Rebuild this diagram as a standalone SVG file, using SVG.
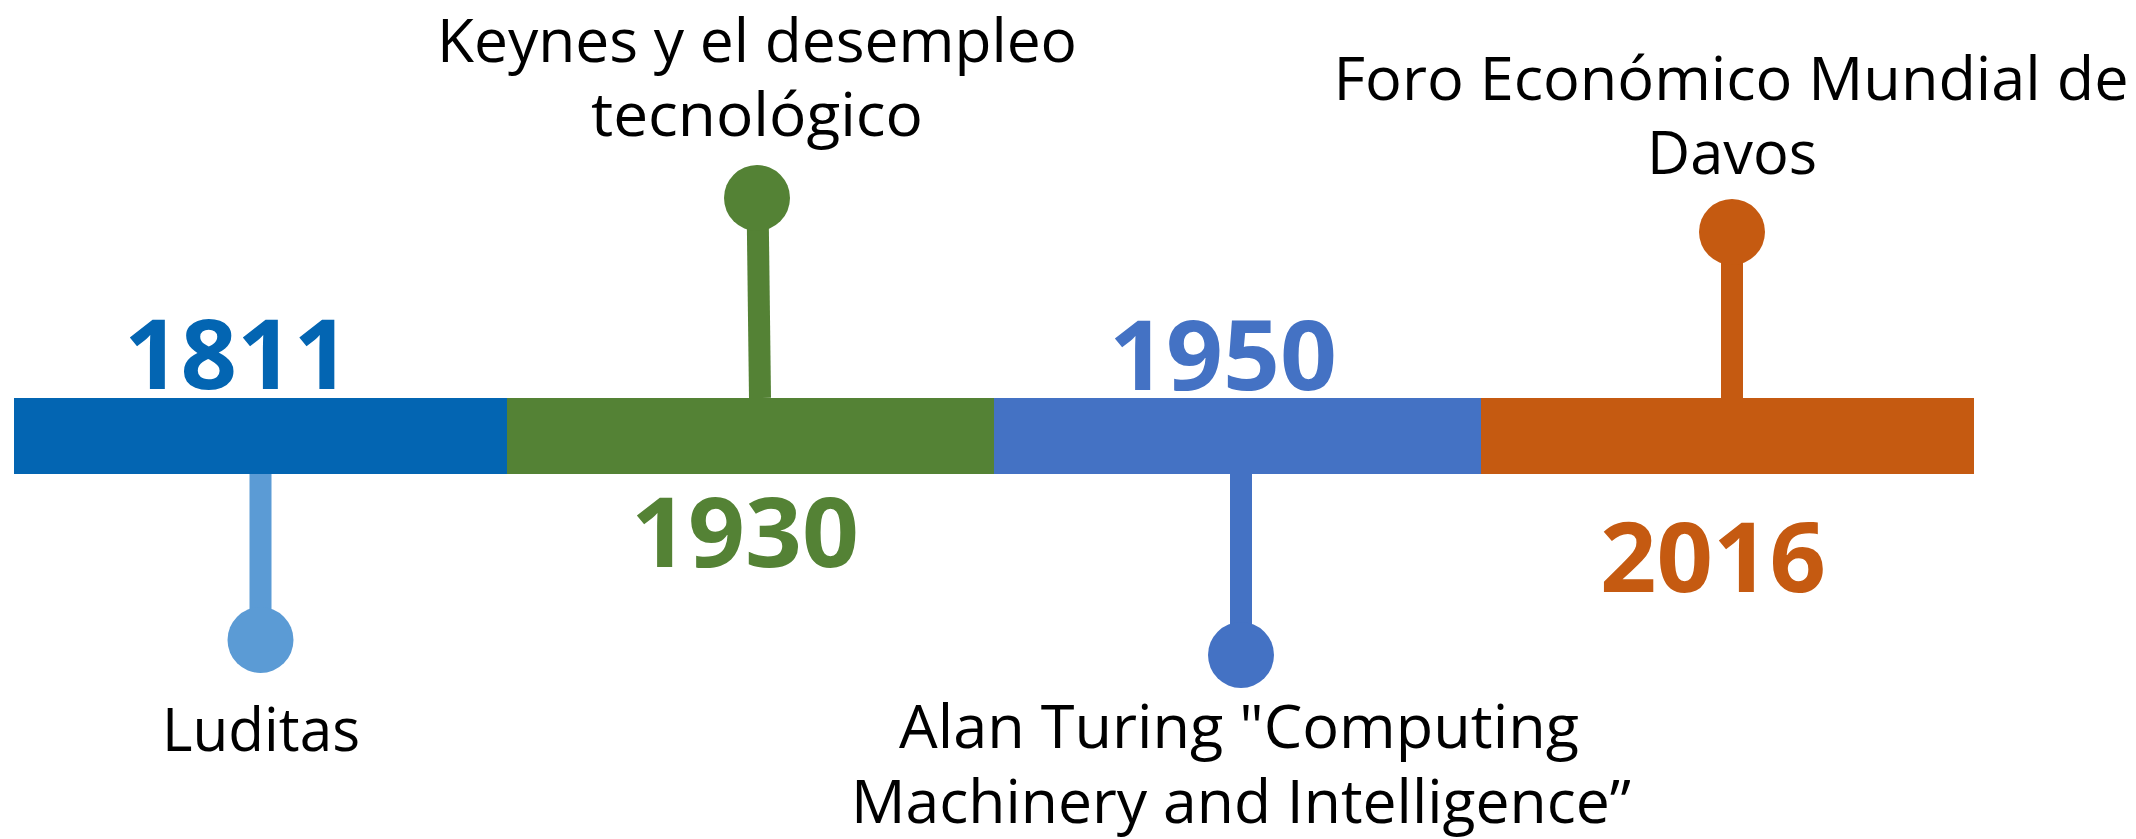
<svg xmlns="http://www.w3.org/2000/svg" width="2136" height="839" viewBox="0 0 2136 839">
<style>
.lbl{font-family:"Open Sans","Noto Sans","Liberation Sans",sans-serif;font-size:60px;fill:#000;text-anchor:middle}
.yr{font-family:"Open Sans","Noto Sans","Liberation Sans",sans-serif;font-size:96px;font-weight:bold;text-anchor:middle}
.stem{stroke-width:22;fill:none}
</style>
<rect width="2136" height="839" fill="#fff"/>
<g id="connectors">
<line class="stem" x1="260.5" y1="474" x2="260.5" y2="640" stroke="#5B9BD5"/>
<line class="stem" x1="757.5" y1="198" x2="760" y2="398" stroke="#548235"/>
<line class="stem" x1="1241" y1="474" x2="1241" y2="655" stroke="#4472C4"/>
<line class="stem" x1="1732" y1="232" x2="1732" y2="398" stroke="#C55A11"/>
</g>
<g id="bar">
<rect x="14" y="398" width="494" height="76" fill="#0365B2"/>
<rect x="507" y="398" width="488" height="76" fill="#548235"/>
<rect x="994" y="398" width="488" height="76" fill="#4472C4"/>
<rect x="1481" y="398" width="493" height="76" fill="#C55A11"/>
</g>
<g id="n1811">
<text class="yr" x="237" y="389" fill="#0365B2" textLength="226" lengthAdjust="spacingAndGlyphs">1811</text>
<circle cx="260.5" cy="640" r="33" fill="#5B9BD5"/>
<text class="lbl" x="261" y="751" textLength="198" lengthAdjust="spacingAndGlyphs">Luditas</text>
</g>
<g id="n1930">
<text class="yr" x="745" y="567" fill="#548235" textLength="228" lengthAdjust="spacingAndGlyphs">1930</text>
<circle cx="757" cy="198" r="33" fill="#548235"/>
<text class="lbl" x="757" y="62" textLength="640" lengthAdjust="spacingAndGlyphs">Keynes y el desempleo</text>
<text class="lbl" x="757" y="136" textLength="332" lengthAdjust="spacingAndGlyphs">tecnológico</text>
</g>
<g id="n1950">
<text class="yr" x="1223" y="390" fill="#4472C4" textLength="228" lengthAdjust="spacingAndGlyphs">1950</text>
<circle cx="1241" cy="655" r="33" fill="#4472C4"/>
<text class="lbl" x="1239" y="748" textLength="680" lengthAdjust="spacingAndGlyphs">Alan Turing "Computing</text>
<text class="lbl" x="1241" y="823" textLength="780" lengthAdjust="spacingAndGlyphs">Machinery and Intelligence”</text>
</g>
<g id="n2016">
<text class="yr" x="1713" y="592" fill="#C55A11" textLength="226" lengthAdjust="spacingAndGlyphs">2016</text>
<circle cx="1732" cy="232" r="33" fill="#C55A11"/>
<text class="lbl" x="1731" y="100" textLength="795" lengthAdjust="spacingAndGlyphs">Foro Económico Mundial de</text>
<text class="lbl" x="1732" y="174" textLength="170" lengthAdjust="spacingAndGlyphs">Davos</text>
</g>
</svg>
